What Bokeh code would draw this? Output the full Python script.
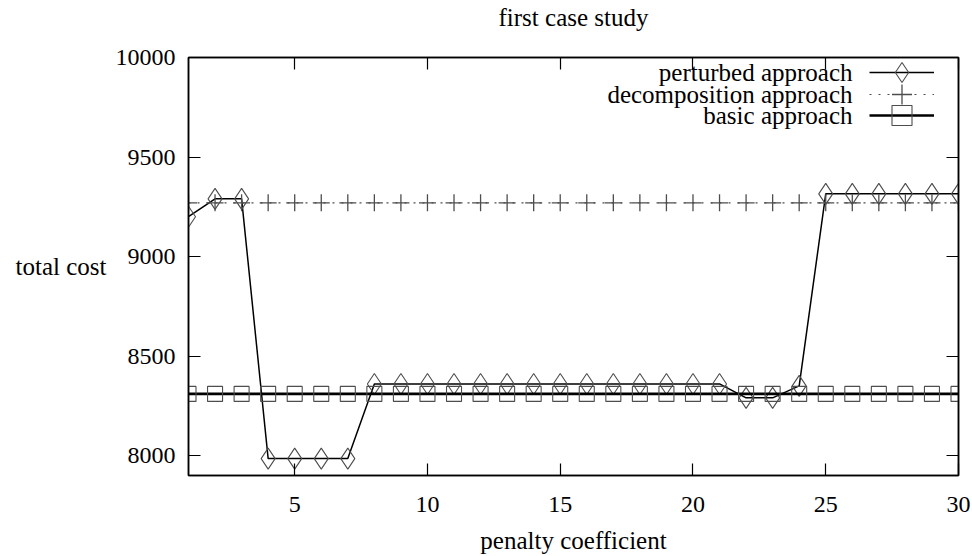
from bokeh.plotting import figure
from bokeh.models import Range1d, LinearAxis, FixedTicker, Legend, LegendItem, Label
from bokeh.embed import file_html
from bokeh.resources import INLINE

# ---- data ----
penalty = [1, 2, 3, 4, 5, 6, 7, 8, 9, 10, 11, 12, 13, 14, 15,
           16, 17, 18, 19, 20, 21, 22, 23, 24, 25, 26, 27, 28, 29, 30]
perturbed = [9200, 9290, 9290, 7985, 7985, 7985, 7985, 8360, 8360, 8360,
             8360, 8360, 8360, 8360, 8360, 8360, 8360, 8360, 8360, 8360,
             8360, 8290, 8290, 8350, 9315, 9315, 9315, 9315, 9315, 9315]
decomposition = [9270, 9270, 9270, 9270, 9270, 9270, 9270, 9270, 9270, 9270,
                 9270, 9270, 9270, 9270, 9270, 9270, 9270, 9270, 9270, 9270,
                 9270, 9270, 9270, 9270, 9270, 9270, 9270, 9270, 9270, 9270]
basic = [8310, 8310, 8310, 8310, 8310, 8310, 8310, 8310, 8310, 8310,
         8310, 8310, 8310, 8310, 8310, 8310, 8310, 8310, 8310, 8310,
         8310, 8310, 8310, 8310, 8310, 8310, 8310, 8310, 8310, 8310]
x_ticks = [5, 10, 15, 20, 25, 30]
y_ticks = [8000, 8500, 9000, 9500, 10000]
series_names = ["perturbed approach", "decomposition approach", "basic approach"]
title_text = "first case study"

FONT = "Liberation Serif"
FS = "25px"
TFS = "24px"
MARK = "#4d4d4d"

p = figure(width=972, height=556, output_backend="svg", toolbar_location=None,
           x_range=Range1d(1, 30), y_range=Range1d(7900, 10000),
           min_border_left=188, min_border_right=14, min_border_top=57,
           min_border_bottom=79)
p.grid.visible = False
p.outline_line_color = "black"
p.outline_line_width = 1.5
p.background_fill_color = "white"
p.border_fill_color = "white"

def style_axis(ax):
    ax.major_tick_in = 12
    ax.major_tick_out = 0
    ax.minor_tick_in = 12
    ax.minor_tick_out = 0
    ax.axis_line_color = "black"
    ax.axis_line_width = 1.5
    ax.major_tick_line_color = "black"
    ax.major_tick_line_width = 1.2
    ax.minor_tick_line_color = "black"
    ax.minor_tick_line_width = 1.2
    ax.major_label_text_font = FONT
    ax.major_label_text_font_size = TFS
    ax.major_label_text_color = "black"
    ax.axis_label_text_font = FONT
    ax.axis_label_text_font_size = FS
    ax.axis_label_text_font_style = "normal"
    ax.axis_label_text_color = "black"

p.xaxis.ticker = FixedTicker(ticks=x_ticks)
p.yaxis.ticker = FixedTicker(ticks=y_ticks)
p.xaxis.axis_label = "penalty coefficient"
p.yaxis.axis_label = "total cost"
p.yaxis.axis_label_orientation = "horizontal"
p.xaxis.major_label_standoff = 21
p.yaxis.major_label_standoff = 13
p.xaxis.axis_label_standoff = 12
p.yaxis.axis_label_standoff = 6
style_axis(p.xaxis[0])
style_axis(p.yaxis[0])

# mirrored top axis (ticks only, as minor ticks so no labels); its axis label is the title
top_ax = LinearAxis(ticker=FixedTicker(ticks=[], minor_ticks=x_ticks))
style_axis(top_ax)
top_ax.major_label_standoff = 0
top_ax.axis_label = title_text
top_ax.axis_label_standoff = 27
p.add_layout(top_ax, "above")
right_ax = LinearAxis(ticker=FixedTicker(ticks=[], minor_ticks=y_ticks))
style_axis(right_ax)
right_ax.major_label_standoff = 0
p.add_layout(right_ax, "right")

# perturbed
l1 = p.line(penalty, perturbed, line_color="black", line_width=1.5)
m1 = p.scatter(penalty, perturbed, marker="diamond", size=21, fill_color=None,
               line_color=MARK, line_width=1.1)
# decomposition
l2 = p.line(penalty, decomposition, line_color=MARK, line_width=1.2, line_dash="2 7")
m2 = p.scatter(penalty, decomposition, marker="cross", size=17,
               line_color=MARK, line_width=1.3)
# basic
l3 = p.line(penalty, basic, line_color="black", line_width=2.6)
m3 = p.scatter(penalty, basic, marker="square", size=15, fill_color=None,
               line_color=MARK, line_width=1.1)

# gnuplot-style key: text right-aligned, sample to its right
row_y = [403, 381, 360]
for name, yy, rends in zip(series_names, row_y, [[l1, m1], [l2, m2], [l3, m3]]):
    lg = Legend(items=[LegendItem(label=" ", renderers=rends)],
                location=(681, yy - 25), glyph_width=65, glyph_height=50,
                spacing=0, padding=0, margin=0, label_standoff=0,
                label_width=0, label_text_font_size="1px",
                border_line_color=None, background_fill_alpha=0)
    p.add_layout(lg, "center")
    p.add_layout(Label(x=664, y=yy, x_units="screen", y_units="screen", text=name,
                       text_align="right", text_baseline="middle", text_font=FONT,
                       text_font_size=FS, text_color="black"))

open("out.html", "w").write(file_html(p, INLINE))
